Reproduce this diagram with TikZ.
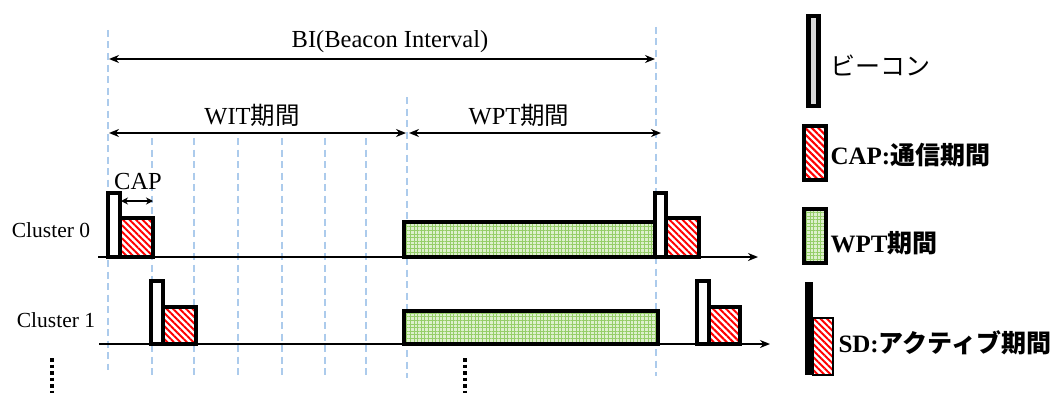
\documentclass[tikz,border=0pt]{standalone}
\usepackage{fontspec}
\setmainfont{Liberation Serif}
\newfontfamily\jp{Noto Sans CJK JP}
\usetikzlibrary{arrows.meta,patterns.meta}
\definecolor{guideblue}{RGB}{172,203,236}
\definecolor{wptfill}{RGB}{222,240,205}
\definecolor{wptgrid}{RGB}{150,206,105}

\begin{document}
\begin{tikzpicture}[x=1pt,y=-1pt,>={Stealth[length=10pt,width=8pt]},font=\fontsize{24.5}{27}\selectfont]
\tikzstyle{guide}=[guideblue,line width=2pt,dash pattern=on 7pt off 4.5pt]
\tikzstyle{beacon}=[draw,line width=3.2pt,fill=white]
\tikzstyle{capbox}=[draw,line width=3.2pt,preaction={fill=white},pattern={Lines[angle=-45,distance=4.6pt,line width=2pt]},pattern color=red]
\tikzstyle{wptbox}=[draw,line width=3.2pt,preaction={fill=wptfill},pattern={Hatch[distance=3.6pt,line width=0.9pt]},pattern color=wptgrid]
\tikzstyle{spanarrow}=[<->,line width=2.2pt]
\tikzstyle{timeaxis}=[->,line width=2.2pt]
\tikzstyle{legend}=[anchor=west,font=\fontsize{25}{28}\selectfont\bfseries]
\useasboundingbox (0,0) rectangle (1056,396);
\draw[guide] (108,30) -- (108,370); \draw[guide] (407,97) -- (407,378); \draw[guide] (656,27) -- (656,376);
\foreach \x in {152,194,238,282,325,366} \draw[guide] (\x,138) -- (\x,377);
\coordinate (biL) at (109,59); \coordinate (biR) at (655,59);
\coordinate (witL) at (109,133); \coordinate (witR) at (406,133);
\coordinate (wptL) at (409,133); \coordinate (wptR) at (661,133);
\coordinate (capL) at (121,201); \coordinate (capR) at (153,201);
\node (bi) at (390,42) {BI(Beacon Interval)};
\node (wit) at (252,115) {WIT{\jp 期間}};
\node (wptlab) at (519,115) {WPT{\jp 期間}};
\node (caplab) at (138,182) {CAP};
\draw[spanarrow] (biL) -- (biR); \draw[spanarrow] (witL) -- (witR); \draw[spanarrow] (wptL) -- (wptR);
\draw[<->,>={Stealth[length=7pt,width=7pt]},line width=2pt] (capL) -- (capR);
\node[font=\fontsize{21.5}{24}\selectfont] (c0) at (51,230) {Cluster 0};
\node[font=\fontsize{21.5}{24}\selectfont] (c1) at (56,320) {Cluster 1};
\coordinate (ax0s) at (98,257); \coordinate (ax0e) at (758,257);
\coordinate (ax1s) at (99,344); \coordinate (ax1e) at (770,344);
\draw[timeaxis] (ax0s) -- (ax0e); \draw[timeaxis] (ax1s) -- (ax1e);
\draw[beacon] (108,193) rectangle (120,257); \draw[capbox] (120,218) rectangle (153,257);
\draw[wptbox] (404,222) rectangle (656,257);
\draw[beacon] (655,193) rectangle (666,257); \draw[capbox] (666,218) rectangle (699,257);
\draw[beacon] (151,281) rectangle (163,344); \draw[capbox] (163,307) rectangle (196,344);
\draw[wptbox] (404,311) rectangle (658,344);
\draw[beacon] (697,281) rectangle (709,344); \draw[capbox] (709,307) rectangle (740,344);
\draw[line width=3.5pt,dash pattern=on 3.5pt off 3pt] (52,358) -- (52,393);
\draw[line width=3.5pt,dash pattern=on 3.5pt off 3pt] (465,358) -- (465,393);
\draw[beacon,line width=4.2pt,fill=black!15] (808.5,16) rectangle (818.5,106);
\node[anchor=west,font=\fontsize{25}{28}\selectfont] (lgb) at (827,65) {\jp ビーコン};
\draw[capbox] (804,126) rectangle (826,180);
\node[legend] (lgc) at (827,155) {CAP:{\jp 通信期間}};
\draw[wptbox] (804,209) rectangle (826,263);
\node[legend] (lgw) at (827,243) {WPT{\jp 期間}};
\fill (805,282) rectangle (813,375); \draw[capbox,line width=2.6pt] (813,318) rectangle (833,375);
\node[legend] (lgs) at (835,343) {SD:{\jp アクティブ期間}};
\end{tikzpicture}
\end{document}
